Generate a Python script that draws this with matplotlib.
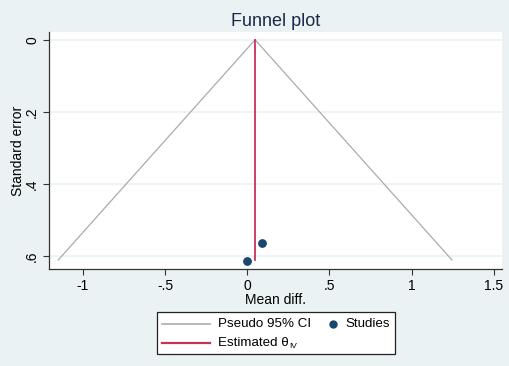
import matplotlib
matplotlib.use("Agg")
import matplotlib.pyplot as plt
from matplotlib.lines import Line2D
from matplotlib.patches import Rectangle

plt.rcParams["font.family"] = ["Liberation Sans", "DejaVu Sans"]

# study estimates
mean_diff = [0.0, 0.091]
std_err = [0.613, 0.564]
theta_iv = 0.048
se_max = 0.611

bg = "#eaf2f3"
navy = "#1a476f"
cranberry = "#c8325a"
grey = "#ababab"

W, H = 510, 366
fig = plt.figure(figsize=(W / 100, H / 100), dpi=100, facecolor=bg)
ax = fig.add_axes([0.096, 0.265, 0.888, 0.648])
ax.set_facecolor("white")

# pseudo 95% CI funnel
half = 1.96 * se_max
ax.plot([theta_iv - half, theta_iv, theta_iv + half], [se_max, 0, se_max],
        color=grey, lw=0.9, zorder=2)
ax.plot([theta_iv, theta_iv], [0, se_max], color=cranberry, lw=1.3, zorder=3)
ax.scatter(mean_diff, std_err, s=28, color=navy, zorder=4)

ax.set_xlim(-1.206, 1.549)
ax.set_ylim(0.636, -0.022)
ax.set_xticks([-1, -0.5, 0, 0.5, 1, 1.5])
ax.set_xticklabels(["-1", "-.5", "0", ".5", "1", "1.5"])
ax.set_yticks([0, 0.2, 0.4, 0.6])
ax.set_yticklabels(["0", ".2", ".4", ".6"], rotation=90, va="center")
ax.grid(axis="y", color=bg, lw=1.2, zorder=0)
ax.tick_params(labelsize=10, length=4, width=0.8, color="#333333", pad=3)

for s in ["top", "right"]:
    ax.spines[s].set_visible(False)
for s in ["left", "bottom"]:
    ax.spines[s].set_color("#333333")
    ax.spines[s].set_linewidth(0.9)

ax.set_xlabel("Mean diff.", fontsize=10, labelpad=0)
ax.set_ylabel("Standard error", fontsize=10, labelpad=0)
ax.set_title("Funnel plot", fontsize=13, color="#1a2a4a", pad=4)

# legend drawn by hand in pixel coords (Stata-style layout)
def fx(px):
    return px / W

def fy(py):
    return 1 - py / H

fig.add_artist(Rectangle((fx(157), fy(354)), fx(395) - fx(157), fy(312) - fy(354),
                         transform=fig.transFigure, facecolor="white",
                         edgecolor="#222222", lw=0.9))
r1, r2 = 324, 343
fig.add_artist(Line2D([fx(162), fx(210)], [fy(r1), fy(r1)], color=grey, lw=1.2,
                      transform=fig.transFigure))
fig.add_artist(Line2D([fx(162), fx(210)], [fy(r2), fy(r2)], color=cranberry, lw=1.6,
                      transform=fig.transFigure))
fig.add_artist(Line2D([fx(333)], [fy(r1)], marker="o", ls="", color=navy, ms=5,
                      transform=fig.transFigure))
fig.text(fx(218), fy(r1), "Pseudo 95% CI", fontsize=9.6, va="center")
fig.text(fx(345), fy(r1), "Studies", fontsize=9.6, va="center")
t = fig.text(fx(218), fy(r2), "Estimated θ", fontsize=9.6, va="center")
fig.canvas.draw()
bb = t.get_window_extent()
fig.text(bb.x1 / W + 0.001, fy(r2 + 4), "IV", fontsize=6, va="center")

fig.savefig("out.png", dpi=100, facecolor=bg)
